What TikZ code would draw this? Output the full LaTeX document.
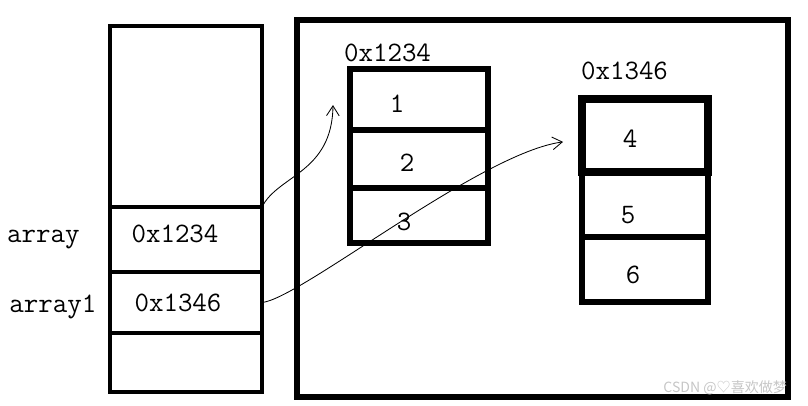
\documentclass[tikz,border=0pt]{standalone}
\usepackage{fontspec}
\newfontfamily\cjkfont{Noto Sans CJK SC}
\usepackage{tikz}
\usetikzlibrary{positioning, arrows.meta}

\begin{document}
\begin{tikzpicture}[
    slot/.style={rectangle, draw, line width=3.4pt, minimum width=3.8cm, inner sep=0pt, outer sep=0pt},
    cell/.style={rectangle, draw, line width=3.6pt, inner sep=0pt, outer sep=0pt},
    addr/.style={font=\ttfamily\fontsize{20}{22}\selectfont, inner sep=1pt},
    num/.style={font=\ttfamily\fontsize{20}{22}\selectfont, inner sep=0pt},
    ref/.style={line width=0.6pt, -{Straight Barb[length=7pt, width=9pt]}}
]
\useasboundingbox (0,0) rectangle (20.2,10.125);

% stack
\node[slot, minimum height=4.525cm] (top) at (4.65,7.2125) {};
\node[slot, minimum height=1.625cm, below=0pt of top,
      label={[addr, xshift=-0.275cm, yshift=0.14cm]center:0x1234}] (slotA) {};
\node[slot, minimum height=1.525cm, below=0pt of slotA,
      label={[addr, xshift=-0.2cm]center:0x1346}] (slotB) {};
\node[slot, minimum height=1.475cm, below=0pt of slotB] (bottom) {};
\node[addr, left=0.72cm of slotA] (nameA) {array};
\node[addr, left=0.3cm of slotB, yshift=-0.12cm] (nameB) {array1};

% heap
\node[draw, line width=4pt, minimum width=12.275cm, minimum height=9.425cm, outer sep=0pt] (heap) at (13.5625,4.9125) {};

% first array
\node[cell, minimum width=3.45cm, minimum height=1.525cm,
      label={[num, xshift=-0.55cm, yshift=-0.11cm]center:1}] (a1) at (10.475,7.6375) {};
\node[cell, minimum width=3.45cm, minimum height=1.45cm, below=0pt of a1,
      label={[num, xshift=-0.3cm, yshift=-0.1cm]center:2}] (a2) {};
\node[cell, minimum width=3.45cm, minimum height=1.375cm, below=0pt of a2,
      label={[num, xshift=-0.375cm, yshift=-0.16cm]center:3}] (a3) {};
\node[addr, anchor=south west] (addrA) at ([xshift=-0.19cm, yshift=0.14cm]a1.north west) {0x1234};

% second array
\node[cell, line width=5.5pt, minimum width=3.15cm, minimum height=1.825cm,
      label={[num, xshift=-0.375cm, yshift=-0.09cm]center:4}] (b1) at (16.125,6.7375) {};
\node[cell, minimum width=3.15cm, minimum height=1.625cm, below=0pt of b1,
      label={[num, xshift=-0.425cm, yshift=-0.26cm]center:5}] (b2) {};
\node[cell, minimum width=3.15cm, minimum height=1.625cm, below=0pt of b2,
      label={[num, xshift=-0.3cm, yshift=-0.14cm]center:6}] (b3) {};
\node[addr, anchor=south west] (addrB) at ([xshift=-0.065cm, yshift=0.44cm]b1.north west) {0x1346};

% references
\coordinate (tipA) at ([xshift=-0.425cm, yshift=-0.14cm]a1.west);
\coordinate (tipB) at ([xshift=-0.475cm, yshift=-0.16cm]b1.west);
\draw[ref] (slotA.north east) .. controls (6.95,5.75) and (8.3,5.8) .. (tipA);
\draw[ref] (slotB.east) .. controls (7.5,2.65) and (12,6.3) .. (tipB);

\node[font=\cjkfont\fontsize{10}{12}\selectfont, text=gray!45, anchor=east] (mark) at (19.8,0.425) {CSDN @♡喜欢做梦};
\end{tikzpicture}
\end{document}
